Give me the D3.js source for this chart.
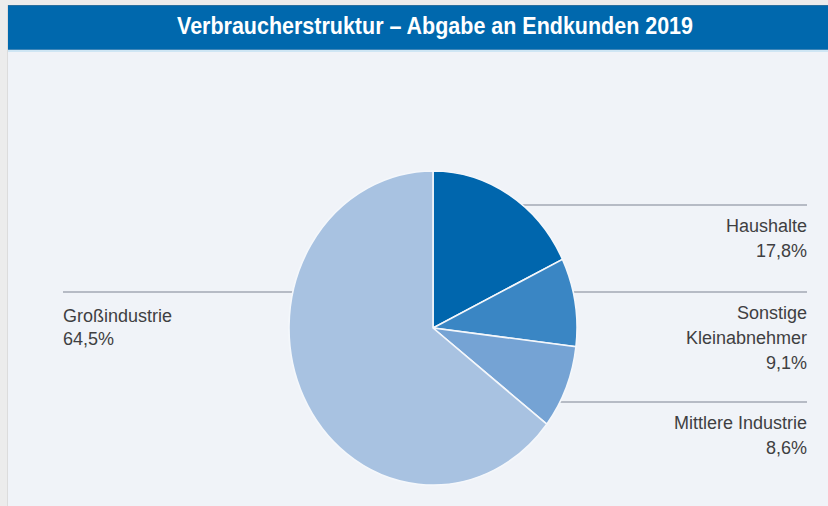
<!DOCTYPE html>
<html>
<head>
  <meta charset="UTF-8">
  <title>Verbraucherstruktur – Abgabe an Endkunden 2019</title>
  <script src="https://d3js.org/d3.v7.min.js"></script>
  <style>
    body { margin: 0; background: #ececec; }
    text { font-family: "Liberation Sans", Arial, sans-serif; }
  </style>
</head>
<body>
  <div id="chart"></div>
  <script>
    // data
    const categories = ["Haushalte", "Sonstige Kleinabnehmer", "Mittlere Industrie", "Großindustrie"];
    const shares = [17.8, 9.1, 8.6, 64.5];
    const labelLines = [["Haushalte", "17,8%"], ["Sonstige", "Kleinabnehmer", "9,1%"], ["Mittlere Industrie", "8,6%"], ["Großindustrie", "64,5%"]];
    const labelSide = ["right", "right", "right", "left"];
    const leaderY = [205, 292, 402, 292];
    const colors = ["#0066ad", "#3a86c4", "#75a3d4", "#a8c2e1"];

    const W = 828, H = 506;
    const cx = 433, cy = 328, rx = 144, ry = 157;

    const svg = d3.select("#chart")
      .append("svg")
      .attr("width", W)
      .attr("height", H);

    // panel
    svg.append("rect").attr("x", 0).attr("y", 0).attr("width", W).attr("height", H).attr("fill", "#ececec");
    svg.append("rect").attr("x", 7).attr("y", 5).attr("width", W).attr("height", H).attr("fill", "#dcdcdc");
    svg.append("rect").attr("x", 8).attr("y", 5).attr("width", W).attr("height", H).attr("fill", "#f0f3f8");

    // title bar
    svg.append("rect").attr("x", 8).attr("y", 5).attr("width", W).attr("height", 45).attr("fill", "#0068ad");
    svg.append("rect").attr("x", 8).attr("y", 5).attr("width", W).attr("height", 1).attr("fill", "#2a6f9e");
    svg.append("rect").attr("x", 8).attr("y", 49).attr("width", W).attr("height", 1).attr("fill", "#3f86b8");
    svg.append("rect").attr("x", 8).attr("y", 50).attr("width", W).attr("height", 2).attr("fill", "#cfe6f4");

    svg.append("text")
      .attr("x", 177)
      .attr("y", 34)
      .attr("textLength", 516)
      .attr("lengthAdjust", "spacingAndGlyphs")
      .style("font-family", "'Liberation Sans Narrow', 'Liberation Sans', Arial, sans-serif")
      .style("font-weight", "bold")
      .style("font-size", "23px")
      .attr("fill", "#ffffff")
      .text("Verbraucherstruktur – Abgabe an Endkunden 2019");

    // leader lines (drawn behind the pie, so they stop at its edge)
    const leftX = 63, rightX = 807;
    svg.selectAll(".leader")
      .data(categories)
      .enter()
      .append("line")
      .attr("class", "leader")
      .attr("x1", (d, i) => labelSide[i] === "left" ? leftX : cx)
      .attr("x2", (d, i) => labelSide[i] === "left" ? cx : rightX)
      .attr("y1", (d, i) => leaderY[i])
      .attr("y2", (d, i) => leaderY[i])
      .attr("stroke", "#b6bbc5")
      .attr("stroke-width", 2);

    // pie, stretched a little vertically like the original
    const pie = d3.pie().sort(null).value(d => d);
    const arc = d3.arc().innerRadius(0).outerRadius(rx);

    const g = svg.append("g")
      .attr("transform", "translate(" + cx + "," + cy + ") scale(1," + (ry / rx) + ")");

    g.selectAll("path")
      .data(pie(shares))
      .enter()
      .append("path")
      .attr("d", arc)
      .attr("fill", (d, i) => colors[i])
      .attr("stroke", "#f4f7fb")
      .attr("stroke-width", 1.6)
      .attr("vector-effect", "non-scaling-stroke");

    // labels
    categories.forEach(function(c, i) {
      const left = labelSide[i] === "left";
      const t = svg.append("text")
        .attr("x", left ? leftX : rightX)
        .attr("y", leaderY[i] + (left ? 30 : 27))
        .attr("text-anchor", left ? "start" : "end")
        .style("font-size", "18px")
        .attr("fill", "#3f3f42");
      labelLines[i].forEach(function(s, k) {
        t.append("tspan")
          .attr("x", left ? leftX : rightX)
          .attr("dy", k === 0 ? 0 : (left ? 23 : 25))
          .text(s);
      });
    });
  </script>
</body>
</html>
